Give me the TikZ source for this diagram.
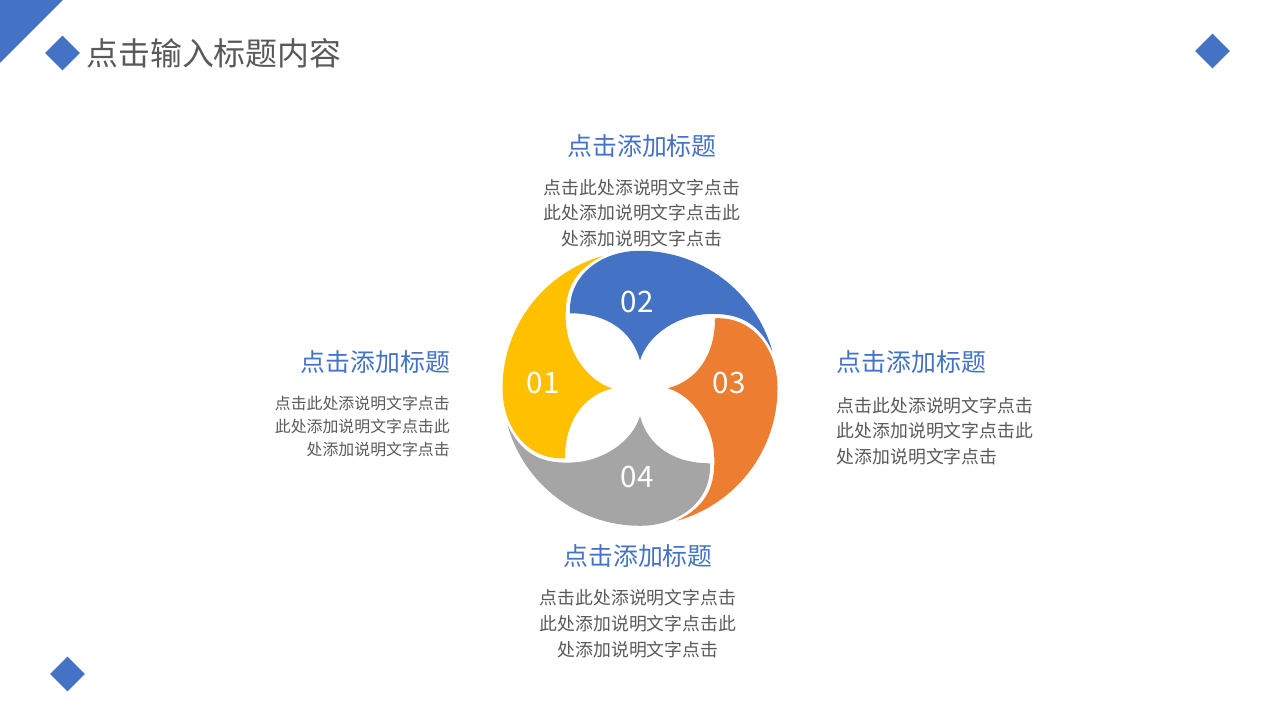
\documentclass[tikz,border=0pt]{standalone}
\usepackage{fontspec}
\setmainfont{Noto Sans CJK SC}
\usetikzlibrary{shapes.geometric}
\definecolor{themeblue}{HTML}{4472C4}
\definecolor{themeyellow}{HTML}{FFC000}
\definecolor{themeorange}{HTML}{ED7D31}
\definecolor{themegrey}{HTML}{A5A5A5}
\definecolor{textgrey}{HTML}{595959}
\tikzset{
    corner/.style={diamond,fill=themeblue,inner sep=0pt,minimum size=0.875cm},
    heading/.style={text=themeblue,font=\fontsize{17.7}{21}\selectfont,inner sep=0pt},
    body/.style={text=textgrey,font=\fontsize{12.7}{18.3}\selectfont,inner sep=0pt},
    number/.style={text=white,font=\fontsize{21}{25}\selectfont,inner sep=0pt}
}
\newcommand{\bodytext}{点击此处添说明文字点击\\此处添加说明文字点击此\\处添加说明文字点击}
\begin{document}
\begin{tikzpicture}[x=0.025cm,y=0.025cm]
    \useasboundingbox (0,0) rectangle (1280,720);
    \fill[themeblue] (0,720)--(63,720)--(0,657)--cycle;
    \node[corner] (markTitle) at (62.5,667) {};
    \node[corner] (markRight) at (1212.5,669) {};
    \node[corner] (markBottom) at (67.5,46) {};
    \node[anchor=west,text=textgrey,font=\fontsize{22.7}{26}\selectfont,inner sep=0pt] (title) at (86,667) {点击输入标题内容};
    % one petal, turned round the centre
    \foreach \petalcolor/\petalangle in {themeblue/0,themeyellow/90,themegrey/180,themeorange/270}{
        \fill[\petalcolor,shift={(640,331.7)},rotate=\petalangle] (0,27.7)
            .. controls (-8,58) and (-34,75) .. (-70,75)
            .. controls (-72,112) and (-40,137.5) .. (0,137.5)
            arc[start angle=90,end angle=15.5,radius=137.5]
            .. controls (120,62) and (103,74.6) .. (73.3,74.3)
            .. controls (37,75) and (7,52) .. (0,27.7)--cycle;
    }
    \node[number] (numA) at (543,337) {01};
    \node[number] (numB) at (637,418) {02};
    \node[number] (numC) at (729,337) {03};
    \node[number] (numD) at (637,243) {04};
    \node[heading] (headB) at (642,574) {点击添加标题};
    \node[body,align=center] (bodyB) at (642,507) {\bodytext};
    \node[heading,anchor=east] (headA) at (450.5,358) {点击添加标题};
    \node[body,align=right,anchor=east,font=\fontsize{11.3}{16.4}\selectfont] (bodyA) at (450,293.5) {\bodytext};
    \node[heading,anchor=west] (headC) at (836.5,358) {点击添加标题};
    \node[body,align=left,anchor=west] (bodyC) at (836.5,289) {\bodytext};
    \node[heading] (headD) at (638,164) {点击添加标题};
    \node[body,align=center] (bodyD) at (638,96.5) {\bodytext};
\end{tikzpicture}
\end{document}
